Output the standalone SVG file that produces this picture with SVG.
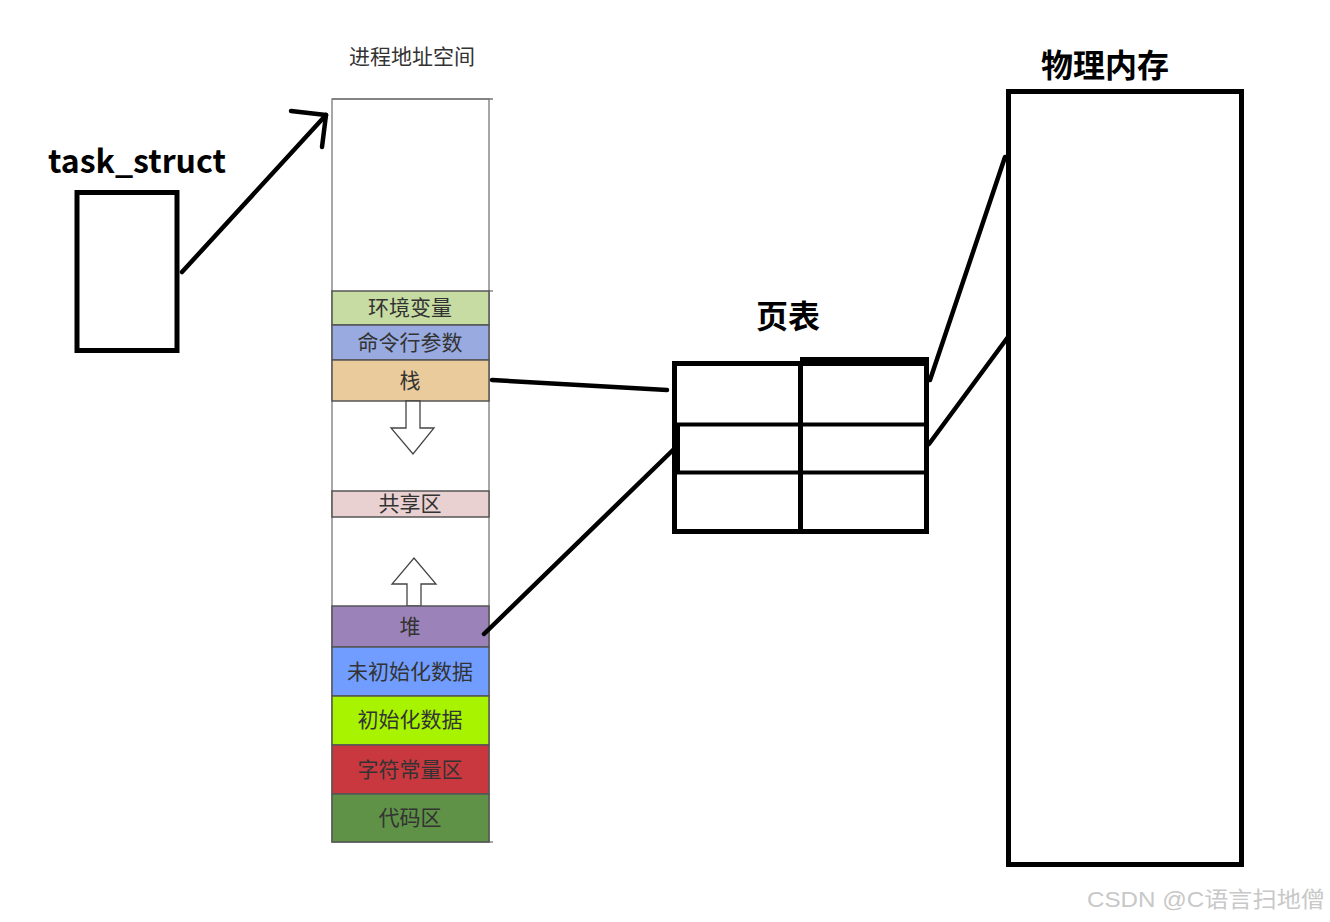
<svg xmlns="http://www.w3.org/2000/svg" width="1330" height="922" viewBox="0 0 1330 922">
<style>
.seg{stroke:#555;stroke-width:1.5}
.lbl{font-family:"Noto Sans CJK SC","Noto Sans",sans-serif;font-size:21px;fill:#333;text-anchor:middle}
.big{font-family:"Noto Sans CJK SC","Noto Sans",sans-serif;font-size:32px;font-weight:bold;fill:#000;text-anchor:middle}
.thick{fill:none;stroke:#000;stroke-width:5}
.conn{fill:none;stroke:#000;stroke-width:4.5;stroke-linecap:round;stroke-linejoin:round}
.arr{fill:#fff;stroke:#444;stroke-width:1.3}
</style>
<rect width="1330" height="922" fill="#fff"/>

<g id="address-space">
  <text class="lbl" x="412" y="64">进程地址空间</text>
  <rect x="332" y="99" width="157" height="743" fill="#fff" stroke="#777" stroke-width="1.3"/>
  <line x1="332" y1="99" x2="493" y2="99" stroke="#777" stroke-width="1.3"/>
  <line x1="489" y1="291" x2="493" y2="291" stroke="#777" stroke-width="1.3"/>
  <line x1="489" y1="842" x2="493" y2="842" stroke="#777" stroke-width="1.3"/>
  <g id="seg-env"><rect class="seg" x="332" y="291" width="157" height="34" fill="#c6dca2"/><text class="lbl" x="410" y="315">环境变量</text></g>
  <g id="seg-args"><rect class="seg" x="332" y="325" width="157" height="35" fill="#98aadf"/><text class="lbl" x="410" y="350">命令行参数</text></g>
  <g id="seg-stack"><rect class="seg" x="332" y="360" width="157" height="41" fill="#eacc9c"/><text class="lbl" x="410" y="388">栈</text></g>
  <g id="arrow-down"><path class="arr" d="M406,401 L420,401 L420,428 L434,428 L413,454 L391,428 L406,428 Z"/></g>
  <g id="seg-shared"><rect class="seg" x="332" y="491" width="157" height="26" fill="#e9d1d1"/><text class="lbl" x="410" y="511">共享区</text></g>
  <g id="arrow-up"><path class="arr" d="M407,606 L421,606 L421,584 L436,584 L414,558 L392,584 L407,584 Z"/></g>
  <g id="seg-heap"><rect class="seg" x="332" y="606" width="157" height="41" fill="#9b83b9"/><text class="lbl" x="410" y="634">堆</text></g>
  <g id="seg-bss"><rect class="seg" x="332" y="647" width="157" height="49" fill="#709dff"/><text class="lbl" x="410" y="679">未初始化数据</text></g>
  <g id="seg-data"><rect class="seg" x="332" y="696" width="157" height="49" fill="#a7f300"/><text class="lbl" x="410" y="727">初始化数据</text></g>
  <g id="seg-rodata"><rect class="seg" x="332" y="745" width="157" height="49" fill="#c9383f"/><text class="lbl" x="410" y="777">字符常量区</text></g>
  <g id="seg-text"><rect class="seg" x="332" y="794" width="157" height="48" fill="#5f9247"/><text class="lbl" x="410" y="825">代码区</text></g>
</g>

<g id="task-struct">
  <text class="big" x="137" y="173" font-size="30" textLength="178" lengthAdjust="spacingAndGlyphs">task_struct</text>
  <rect class="thick" x="77" y="192.5" width="100" height="158"/>
</g>

<g id="page-table">
  <text class="big" x="788" y="328">页表</text>
  <rect class="thick" x="674.5" y="363.5" width="252" height="168"/>
  <rect x="800" y="357" width="129" height="9" fill="#000"/>
  <rect x="672" y="424" width="8" height="48" fill="#000"/>
  <line x1="674" y1="424.5" x2="927" y2="424.5" stroke="#000" stroke-width="4"/>
  <line x1="674" y1="472.5" x2="927" y2="472.5" stroke="#000" stroke-width="4"/>
  <line x1="800.5" y1="363" x2="800.5" y2="532" stroke="#000" stroke-width="5"/>
</g>

<g id="physical-memory">
  <text class="big" x="1105" y="77">物理内存</text>
  <rect class="thick" x="1008.5" y="91.5" width="233" height="773"/>
</g>

<g id="connectors">
  <polyline class="conn" points="182,272 326,115"/>
  <polyline class="conn" points="291,111 326,115 322,147"/>
  <line class="conn" x1="492" y1="380" x2="667" y2="390"/>
  <line class="conn" x1="484" y1="634" x2="673" y2="450"/>
  <line class="conn" x1="930" y1="380" x2="1005" y2="157"/>
  <line class="conn" x1="929" y1="444" x2="1008" y2="337"/>
</g>

<text x="1087" y="907" font-family="'Liberation Sans','Noto Sans CJK SC',sans-serif" font-size="22" fill="#c8c8c8" textLength="238" lengthAdjust="spacingAndGlyphs">CSDN @C语言扫地僧</text>
</svg>
